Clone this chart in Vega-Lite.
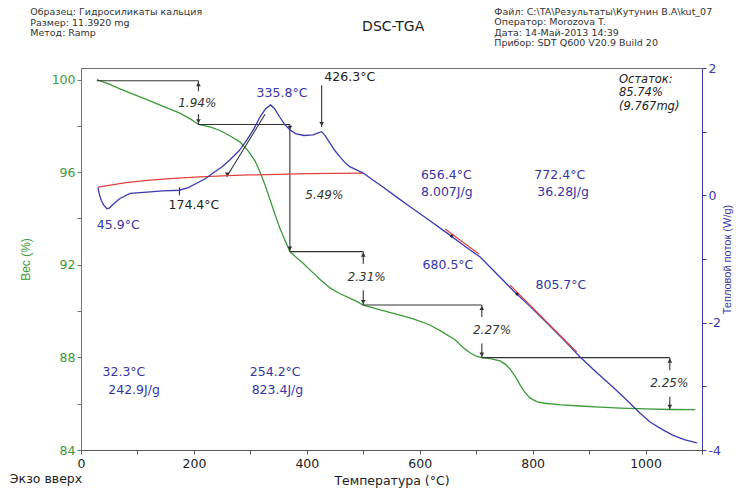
{
  "$schema": "https://vega.github.io/schema/vega-lite/v6.json",
  "width": 621,
  "height": 382,
  "autosize": {"type": "none"},
  "padding": {"left": 81, "top": 68, "right": 48, "bottom": 38},
  "background": "white",
  "config": {
    "font": "DejaVu Sans",
    "view": {"stroke": "#6e6e6e", "strokeWidth": 1},
    "axis": {"grid": false, "labelFont": "DejaVu Sans", "titleFontWeight": "normal"}
  },
  "datasets": {
    "tga": [
      {"t": 28, "w": 100.0}, {"t": 50, "w": 99.8}, {"t": 69, "w": 99.6}, {"t": 100, "w": 99.3},
      {"t": 122, "w": 99.08}, {"t": 150, "w": 98.8}, {"t": 175, "w": 98.55}, {"t": 195, "w": 98.28},
      {"t": 208, "w": 98.06}, {"t": 230, "w": 97.95}, {"t": 246, "w": 97.8}, {"t": 265, "w": 97.55},
      {"t": 282, "w": 97.3}, {"t": 295, "w": 96.95}, {"t": 308, "w": 96.5}, {"t": 318, "w": 95.95},
      {"t": 326, "w": 95.45}, {"t": 335, "w": 94.8}, {"t": 344, "w": 94.15}, {"t": 352, "w": 93.6},
      {"t": 361, "w": 93.07}, {"t": 370, "w": 92.57}, {"t": 380, "w": 92.35}, {"t": 393, "w": 92.08},
      {"t": 406, "w": 91.77}, {"t": 424, "w": 91.35}, {"t": 441, "w": 91.0}, {"t": 459, "w": 90.75},
      {"t": 476, "w": 90.56}, {"t": 490, "w": 90.4}, {"t": 500, "w": 90.26}, {"t": 530, "w": 90.05},
      {"t": 565, "w": 89.83}, {"t": 590, "w": 89.65}, {"t": 618, "w": 89.4}, {"t": 640, "w": 89.1},
      {"t": 663, "w": 88.75}, {"t": 678, "w": 88.4}, {"t": 689, "w": 88.2}, {"t": 700, "w": 88.05},
      {"t": 710, "w": 87.99}, {"t": 725, "w": 87.95}, {"t": 742, "w": 87.85}, {"t": 752, "w": 87.7},
      {"t": 760, "w": 87.5}, {"t": 770, "w": 87.15}, {"t": 778, "w": 86.8}, {"t": 786, "w": 86.5},
      {"t": 795, "w": 86.25}, {"t": 808, "w": 86.08}, {"t": 822, "w": 86.02}, {"t": 850, "w": 85.95},
      {"t": 884, "w": 85.9}, {"t": 920, "w": 85.85}, {"t": 955, "w": 85.81}, {"t": 1000, "w": 85.78},
      {"t": 1043, "w": 85.75}, {"t": 1088, "w": 85.74}
    ],
    "dsc": [
      {"t": 30, "hf": 0.12}, {"t": 33, "hf": 0.0}, {"t": 36, "hf": -0.08}, {"t": 40, "hf": -0.15},
      {"t": 45.9, "hf": -0.21}, {"t": 50, "hf": -0.2}, {"t": 57, "hf": -0.14}, {"t": 69, "hf": -0.05},
      {"t": 87, "hf": 0.03}, {"t": 117, "hf": 0.05}, {"t": 145, "hf": 0.07}, {"t": 174.4, "hf": 0.08},
      {"t": 190, "hf": 0.12}, {"t": 205, "hf": 0.19}, {"t": 220, "hf": 0.26}, {"t": 234, "hf": 0.35},
      {"t": 250, "hf": 0.45}, {"t": 264, "hf": 0.56}, {"t": 280, "hf": 0.7}, {"t": 294, "hf": 0.87},
      {"t": 306, "hf": 1.04}, {"t": 317, "hf": 1.23}, {"t": 327, "hf": 1.36}, {"t": 335.8, "hf": 1.42},
      {"t": 343, "hf": 1.36}, {"t": 352, "hf": 1.23}, {"t": 361, "hf": 1.11}, {"t": 370, "hf": 1.03},
      {"t": 380, "hf": 0.97}, {"t": 395, "hf": 0.94}, {"t": 411, "hf": 0.95}, {"t": 420, "hf": 0.98},
      {"t": 426.3, "hf": 1.0}, {"t": 433, "hf": 0.93}, {"t": 441, "hf": 0.82}, {"t": 450, "hf": 0.7},
      {"t": 459, "hf": 0.6}, {"t": 468, "hf": 0.51}, {"t": 476, "hf": 0.45}, {"t": 488, "hf": 0.4},
      {"t": 500, "hf": 0.35}, {"t": 517, "hf": 0.24}, {"t": 535, "hf": 0.13}, {"t": 558, "hf": -0.02},
      {"t": 583, "hf": -0.18}, {"t": 615, "hf": -0.38}, {"t": 648, "hf": -0.59}, {"t": 680, "hf": -0.8},
      {"t": 707, "hf": -0.97}, {"t": 735, "hf": -1.22}, {"t": 765, "hf": -1.49}, {"t": 795, "hf": -1.74},
      {"t": 825, "hf": -2.0}, {"t": 855, "hf": -2.27}, {"t": 884, "hf": -2.54}, {"t": 913, "hf": -2.78},
      {"t": 942, "hf": -3.01}, {"t": 967, "hf": -3.22}, {"t": 990, "hf": -3.42}, {"t": 1008, "hf": -3.56},
      {"t": 1030, "hf": -3.68}, {"t": 1049, "hf": -3.77}, {"t": 1070, "hf": -3.84}, {"t": 1091, "hf": -3.89}
    ],
    "baseline": [
      {"t": 30, "hf": 0.13}, {"t": 80, "hf": 0.2}, {"t": 122, "hf": 0.24}, {"t": 170, "hf": 0.27},
      {"t": 211, "hf": 0.29}, {"t": 260, "hf": 0.31}, {"t": 299, "hf": 0.32}, {"t": 350, "hf": 0.33},
      {"t": 400, "hf": 0.34}, {"t": 450, "hf": 0.345}, {"t": 500, "hf": 0.35}
    ],
    "tangents": [
      {"x1": 645, "y1": -0.53, "x2": 705, "y2": -0.92},
      {"x1": 760, "y1": -1.41, "x2": 878, "y2": -2.46}
    ],
    "onsets": [
      {"t": 656.4, "hf": -0.64},
      {"t": 772.4, "hf": -1.55}
    ],
    "guides": [
      {"x1": 28, "y1": 99.95, "x2": 208, "y2": 99.95},
      {"x1": 208, "y1": 99.95, "x2": 208, "y2": 99.5},
      {"x1": 208, "y1": 98.5, "x2": 208, "y2": 98.06},
      {"x1": 208, "y1": 98.06, "x2": 370, "y2": 98.06},
      {"x1": 370, "y1": 98.06, "x2": 370, "y2": 92.57},
      {"x1": 370, "y1": 92.57, "x2": 500, "y2": 92.57},
      {"x1": 500, "y1": 92.57, "x2": 500, "y2": 92.05},
      {"x1": 500, "y1": 90.9, "x2": 500, "y2": 90.26},
      {"x1": 500, "y1": 90.26, "x2": 710, "y2": 90.26},
      {"x1": 710, "y1": 90.26, "x2": 710, "y2": 89.75},
      {"x1": 710, "y1": 88.6, "x2": 710, "y2": 87.99},
      {"x1": 710, "y1": 87.99, "x2": 1043, "y2": 87.99},
      {"x1": 1043, "y1": 87.99, "x2": 1043, "y2": 87.45},
      {"x1": 1043, "y1": 86.3, "x2": 1043, "y2": 85.74},
      {"x1": 426.3, "y1": 99.75, "x2": 426.3, "y2": 97.95},
      {"x1": 258, "y1": 95.8, "x2": 326, "y2": 98.5},
      {"x1": 174.4, "y1": 95.35, "x2": 174.4, "y2": 95.0}
    ],
    "heads": [
      {"x": 208, "y": 99.8, "dir": "up"}, {"x": 208, "y": 98.2, "dir": "down"},
      {"x": 370, "y": 97.92, "dir": "down"}, {"x": 370, "y": 92.7, "dir": "down"},
      {"x": 500, "y": 92.44, "dir": "up"}, {"x": 500, "y": 90.39, "dir": "down"},
      {"x": 710, "y": 90.13, "dir": "up"}, {"x": 710, "y": 88.12, "dir": "down"},
      {"x": 1043, "y": 87.86, "dir": "up"}, {"x": 1043, "y": 85.87, "dir": "down"},
      {"x": 426.3, "y": 98.08, "dir": "down"}, {"x": 259, "y": 95.9, "dir": "down"}
    ],
    "blueLabels": [
      {"t": 356, "w": 99.42, "label": "335.8°C"},
      {"t": 66, "w": 93.72, "label": "45.9°C"},
      {"t": 647, "w": 95.88, "label": "656.4°C"},
      {"t": 648, "w": 95.14, "label": "8.007J/g"},
      {"t": 848, "w": 95.88, "label": "772.4°C"},
      {"t": 854, "w": 95.14, "label": "36.28J/g"},
      {"t": 650, "w": 91.99, "label": "680.5°C"},
      {"t": 850, "w": 91.13, "label": "805.7°C"},
      {"t": 76, "w": 87.37, "label": "32.3°C"},
      {"t": 94, "w": 86.59, "label": "242.9J/g"},
      {"t": 344, "w": 87.37, "label": "254.2°C"},
      {"t": 348, "w": 86.59, "label": "823.4J/g"}
    ],
    "blackLabels": [
      {"t": 476, "w": 100.11, "label": "426.3°C"},
      {"t": 200, "w": 94.58, "label": "174.4°C"}
    ],
    "steps": [
      {"t": 206, "w": 98.99, "label": "1.94%"},
      {"t": 431, "w": 95.01, "label": "5.49%"},
      {"t": 506, "w": 91.47, "label": "2.31%"},
      {"t": 728, "w": 89.18, "label": "2.27%"},
      {"t": 1042, "w": 86.89, "label": "2.25%"}
    ],
    "residue": [
      {"t": 953, "w": 100.0, "label": "Остаток:"},
      {"t": 953, "w": 99.4, "label": "85.74%"},
      {"t": 953, "w": 98.8, "label": "(9.767mg)"}
    ],
    "header": [
      {"t": -90, "w": 102.92, "label": "Образец: Гидросиликаты кальция"},
      {"t": -90, "w": 102.46, "label": "Размер: 11.3920 mg"},
      {"t": -90, "w": 102.01, "label": "Метод: Ramp"},
      {"t": 732, "w": 102.92, "label": "Файл: C:\\TA\\Результаты\\Кутунин В.А\\kut_07"},
      {"t": 732, "w": 102.47, "label": "Оператор: Morozova T."},
      {"t": 732, "w": 102.01, "label": "Дата: 14-Май-2013 14:39"},
      {"t": 732, "w": 101.56, "label": "Прибор: SDT Q600 V20.9 Build 20"}
    ],
    "chartTitle": [
      {"t": 553, "w": 102.27, "label": "DSC-TGA"}
    ],
    "corner": [
      {"t": -126, "w": 82.75, "label": "Экзо вверх"}
    ]
  },
  "layer": [
    {
      "layer": [
        {
          "data": {"name": "tga"},
          "mark": {"type": "line", "color": "#3d9a3a", "strokeWidth": 1.3},
          "encoding": {
            "x": {
              "field": "t", "type": "quantitative",
              "scale": {"domain": [0, 1100], "nice": false, "zero": false},
              "axis": {
                "values": [0, 50, 100, 150, 200, 250, 300, 350, 400, 450, 500, 550, 600, 650, 700, 750, 800, 850, 900, 950, 1000, 1050, 1100],
                "labelExpr": "datum.value % 200 === 0 ? '' + datum.value : ''",
                "labelOverlap": false, "labelFlush": false,
                "labelFontSize": 12.5, "labelColor": "#222", "labelPadding": 3,
                "tickSize": 4, "tickColor": "#555", "domainColor": "#555",
                "title": "Температура (°C)", "titleFontSize": 12.5, "titleColor": "#222", "titlePadding": 5
              }
            },
            "y": {
              "field": "w", "type": "quantitative",
              "scale": {"domain": [84, 100.5], "nice": false, "zero": false},
              "axis": {
                "orient": "left",
                "values": [84, 85, 86, 87, 88, 89, 90, 91, 92, 93, 94, 95, 96, 97, 98, 99, 100],
                "labelExpr": "datum.value % 4 === 0 ? '' + datum.value : ''",
                "labelOverlap": false,
                "labelFontSize": 12.5, "labelColor": "#3d9a3a",
                "tickSize": 4, "tickColor": "#5a8a5a", "domainColor": "#3d9a3a",
                "title": "Вес (%)", "titleColor": "#3d9a3a", "titleFont": "Liberation Sans", "titleFontSize": 12, "titlePadding": 19
              }
            }
          }
        },
        {
          "data": {"name": "guides"},
          "mark": {"type": "rule", "color": "#333", "strokeWidth": 1.1},
          "encoding": {
            "x": {"field": "x1", "type": "quantitative"},
            "x2": {"field": "x2"},
            "y": {"field": "y1", "type": "quantitative"},
            "y2": {"field": "y2"}
          }
        },
        {
          "data": {"name": "heads"},
          "mark": {"type": "point", "filled": true, "color": "#333", "size": 22, "opacity": 1},
          "encoding": {
            "x": {"field": "x", "type": "quantitative"},
            "y": {"field": "y", "type": "quantitative"},
            "shape": {"field": "dir", "type": "nominal", "scale": {"domain": ["up", "down"], "range": ["triangle-up", "triangle-down"]}, "legend": null}
          }
        },
        {
          "data": {"name": "blueLabels"},
          "mark": {"type": "text", "align": "center", "baseline": "middle", "fontSize": 12.5, "color": "#3535a8"},
          "encoding": {
            "x": {"field": "t", "type": "quantitative"},
            "y": {"field": "w", "type": "quantitative"},
            "text": {"field": "label"}
          }
        },
        {
          "data": {"name": "blackLabels"},
          "mark": {"type": "text", "align": "center", "baseline": "middle", "fontSize": 12.5, "color": "#222"},
          "encoding": {
            "x": {"field": "t", "type": "quantitative"},
            "y": {"field": "w", "type": "quantitative"},
            "text": {"field": "label"}
          }
        },
        {
          "data": {"name": "steps"},
          "mark": {"type": "text", "align": "center", "baseline": "middle", "fontSize": 12, "fontStyle": "italic", "color": "#333"},
          "encoding": {
            "x": {"field": "t", "type": "quantitative"},
            "y": {"field": "w", "type": "quantitative"},
            "text": {"field": "label"}
          }
        },
        {
          "data": {"name": "residue"},
          "mark": {"type": "text", "align": "left", "baseline": "middle", "fontSize": 11.5, "fontStyle": "italic", "color": "#222"},
          "encoding": {
            "x": {"field": "t", "type": "quantitative"},
            "y": {"field": "w", "type": "quantitative"},
            "text": {"field": "label"}
          }
        },
        {
          "data": {"name": "header"},
          "mark": {"type": "text", "align": "left", "baseline": "middle", "fontSize": 9.5, "color": "#333"},
          "encoding": {
            "x": {"field": "t", "type": "quantitative"},
            "y": {"field": "w", "type": "quantitative"},
            "text": {"field": "label"}
          }
        },
        {
          "data": {"name": "chartTitle"},
          "mark": {"type": "text", "align": "center", "baseline": "middle", "fontSize": 14, "color": "#222"},
          "encoding": {
            "x": {"field": "t", "type": "quantitative"},
            "y": {"field": "w", "type": "quantitative"},
            "text": {"field": "label"}
          }
        },
        {
          "data": {"name": "corner"},
          "mark": {"type": "text", "align": "left", "baseline": "middle", "fontSize": 12.5, "color": "#222"},
          "encoding": {
            "x": {"field": "t", "type": "quantitative"},
            "y": {"field": "w", "type": "quantitative"},
            "text": {"field": "label"}
          }
        }
      ]
    },
    {
      "layer": [
        {
          "data": {"name": "baseline"},
          "mark": {"type": "line", "color": "#e0413c", "strokeWidth": 1.2},
          "encoding": {
            "x": {"field": "t", "type": "quantitative"},
            "y": {
              "field": "hf", "type": "quantitative",
              "scale": {"domain": [-4, 2], "nice": false, "zero": false},
              "axis": {
                "orient": "right",
                "values": [-4, -3.5, -3, -2.5, -2, -1.5, -1, -0.5, 0, 0.5, 1, 1.5, 2],
                "labelExpr": "datum.value % 2 === 0 ? '' + datum.value : ''",
                "labelOverlap": false,
                "labelFontSize": 12.5, "labelColor": "#3a3aa8",
                "tickSize": 4, "tickColor": "#3a3aa8", "domainColor": "#3a3aa8",
                "title": "Тепловой поток (W/g)", "titleAngle": 270, "titleColor": "#3a3aa8", "titleFont": "Liberation Sans", "titleFontSize": 11, "titlePadding": 12
              }
            }
          }
        },
        {
          "data": {"name": "dsc"},
          "mark": {"type": "line", "color": "#3b3bb0", "strokeWidth": 1.3},
          "encoding": {
            "x": {"field": "t", "type": "quantitative"},
            "y": {"field": "hf", "type": "quantitative"}
          }
        },
        {
          "data": {"name": "tangents"},
          "mark": {"type": "rule", "color": "#e0413c", "strokeWidth": 1.2},
          "encoding": {
            "x": {"field": "x1", "type": "quantitative"},
            "x2": {"field": "x2"},
            "y": {"field": "y1", "type": "quantitative"},
            "y2": {"field": "y2"}
          }
        },
        {
          "data": {"name": "onsets"},
          "mark": {"type": "point", "shape": "diamond", "filled": true, "color": "#222", "size": 14, "opacity": 1},
          "encoding": {
            "x": {"field": "t", "type": "quantitative"},
            "y": {"field": "hf", "type": "quantitative"}
          }
        }
      ]
    }
  ],
  "resolve": {"scale": {"y": "independent"}}
}
